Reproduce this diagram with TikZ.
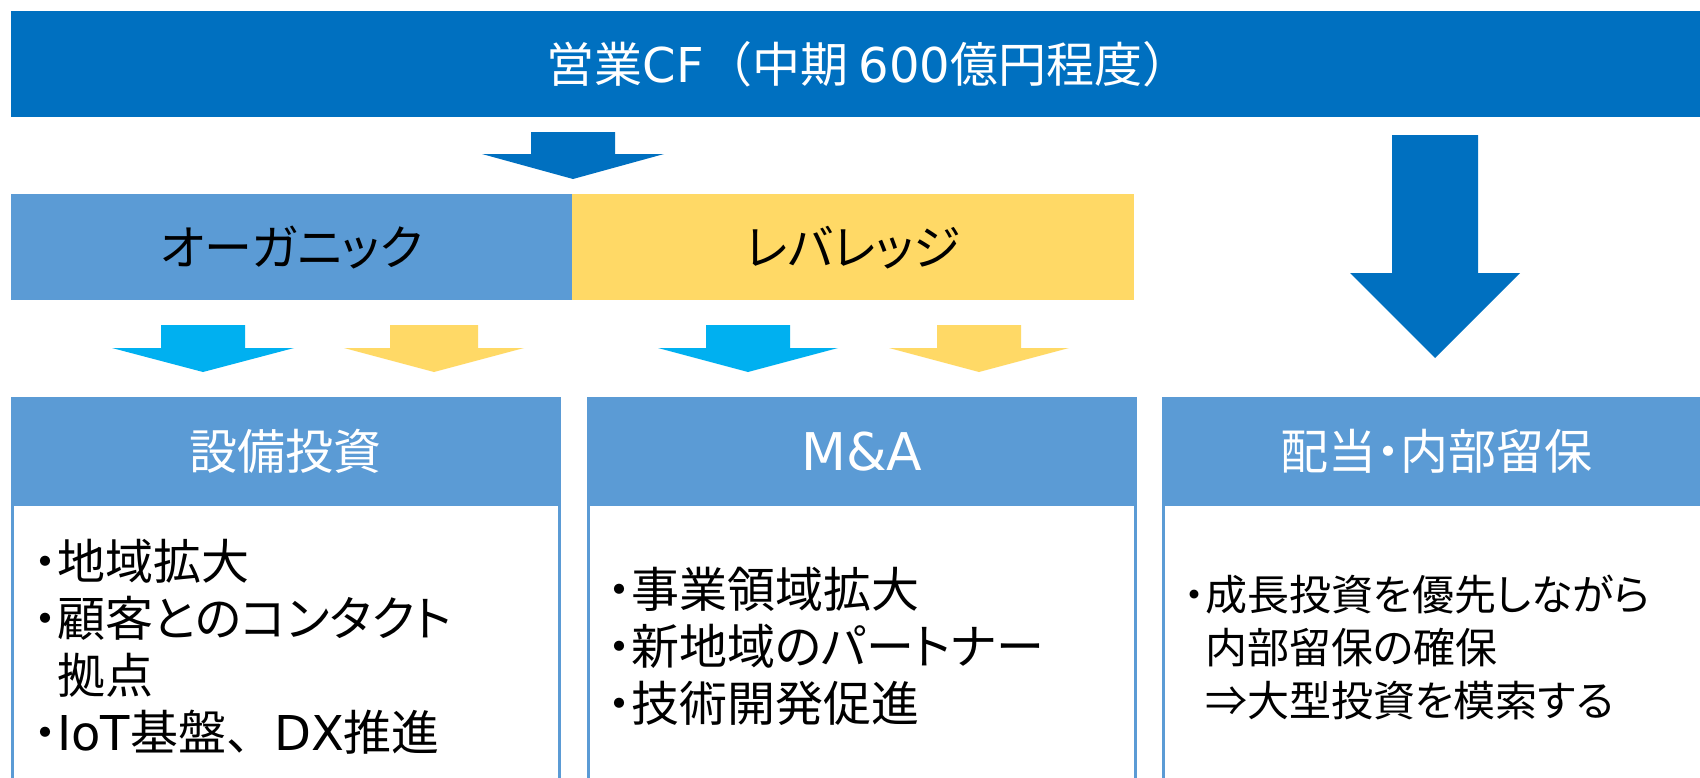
\documentclass[tikz,border=0pt]{standalone}
\usepackage{fontspec}
\setmainfont[RawFeature=+palt]{Noto Sans CJK JP}
\newfontfamily\nopalt{Noto Sans CJK JP}
\newfontfamily\lat{DejaVu Sans}
\definecolor{cfblue}{HTML}{0070C0}
\definecolor{midblue}{HTML}{5B9BD5}
\definecolor{ylw}{HTML}{FFD966}
\definecolor{cyanb}{HTML}{00B0F0}
\newcommand\bul{\makebox[0.5em][c]{・}}
\newcommand\ind{\hspace*{0.5em}}
% #1 colour, #2 centre x, #3 top y, #4 shaft half width, #5 head y, #6 head half width, #7 tip y
\newcommand\blockdown[7]{\fill[#1] ({#2-#4},#3) -- ({#2+#4},#3) -- ({#2+#4},#5) -- ({#2+#6},#5) -- (#2,#7) -- ({#2-#6},#5) -- ({#2-#4},#5) -- cycle;}
\begin{document}
\begin{tikzpicture}[x=1pt,y=-1pt,
  bigfont/.style={font=\fontsize{48}{57}\selectfont},
  band/.style={anchor=north west, inner sep=0pt, minimum height=106pt, bigfont},
  headbox/.style={anchor=north west, inner sep=0pt, minimum width=547pt, minimum height=106pt, fill=midblue, draw=midblue, line width=2.5pt, text=white, bigfont},
  bodybox/.style={anchor=north west, inner sep=0pt, minimum width=547pt, minimum height=420pt, fill=white, draw=midblue, line width=2.5pt},
  bodyline/.style={anchor=base west, inner sep=0pt, bigfont},
  smallline/.style={anchor=base west, inner sep=0pt, font=\fontsize{42}{52}\selectfont}]
\clip (0,0) rectangle (1700,777);
\fill[white] (0,0) rectangle (1700,777);

% top band
\node[band, fill=cfblue, text=white, minimum width=1689pt] (cf) at (11,11) {\hspace*{26pt}営業{\lat CF}{\nopalt （}中期 {\lat 600}億円程度{\nopalt ）}};

% arrow from CF to organic/leverage
\blockdown{cfblue}{573}{132}{42}{154}{91}{179}
% big arrow to dividends
\blockdown{cfblue}{1435}{135}{43}{273}{85}{358}

% organic / leverage
\node[band, fill=midblue, minimum width=561pt] (org) at (11,194) {オーガニック};
\node[band, fill=ylw, minimum width=562pt] (lev) at (572,194) {レバレッジ};

% small arrows
\blockdown{cyanb}{203}{325}{42}{348}{91}{372}
\blockdown{ylw}{434}{325}{44}{348}{90}{372}
\blockdown{cyanb}{748}{325}{42}{348}{90}{372}
\blockdown{ylw}{979}{325}{42}{348}{90}{372}

% bottom boxes
\node[bodybox] (body1) at (11,397) {};
\node[headbox] (head1) at (11,397) {設備投資};
\node[bodybox] (body2) at (587,397) {};
\node[headbox, font=\lat\fontsize{52}{60}\selectfont] (head2) at (587,397) {M\&A};
\node[bodybox] (body3) at (1162,397) {};
\node[headbox] (head3) at (1162,397) {配当・内部留保};

% box 1 text
\node[bodyline] (t11) at (33,579) {\bul 地域拡大};
\node[bodyline] (t12) at (33,636) {\bul 顧客とのコンタクト};
\node[bodyline] (t13) at (33,693) {\ind 拠点};
\node[bodyline] (t14) at (33,750) {\bul {\lat IoT}基盤{\nopalt 、}{\lat DX}推進};

% box 2 text
\node[bodyline] (t21) at (607,607) {\bul 事業領域拡大};
\node[bodyline] (t22) at (607,664) {\bul 新地域のパートナー};
\node[bodyline] (t23) at (607,721) {\bul 技術開発促進};

% box 3 text
\node[smallline] (t31) at (1184,610) {\bul 成長投資を優先しながら};
\node[smallline] (t32) at (1184,663) {\ind 内部留保の確保};
\node[smallline] (t33) at (1184,716) {\ind ⇒大型投資を模索する};
\end{tikzpicture}
\end{document}
